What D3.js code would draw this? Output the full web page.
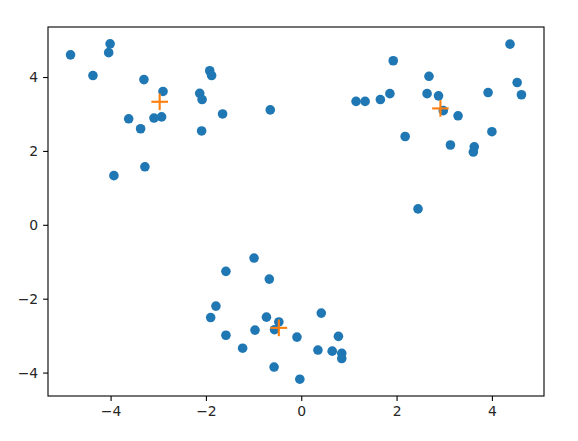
<!DOCTYPE html>
<html>
<head>
<meta charset="utf-8">
<script src="https://cdn.jsdelivr.net/npm/d3@7"></script>
<style>
  body { margin: 0; background: #fff; }
  svg { display: block; }
  .tick text { font-family: "DejaVu Sans", sans-serif; font-size: 13.9px; fill: #262626; }
</style>
</head>
<body>
<div id="chart"></div>
<script>
// scatter points, three clusters
var xs = [-4.84, -4.01, -4.04, -4.37, -3.30, -2.90, -1.92, -1.88, -2.13, -2.08,
          -1.65, -0.65, -3.62, -3.37, -3.09, -2.93, -2.09, -3.28, -3.93,
          4.38, 1.93, 2.68, 4.53, 4.62, 3.92, 1.15, 1.34, 1.66, 1.86,
          2.64, 2.88, 2.98, 3.29, 4.00, 2.18, 3.13, 3.63, 3.61, 2.45,
          -0.99, -1.58, -0.67, -1.79, -1.90, -0.73, -0.47, -0.56, -0.97, -1.58,
          -0.09, 0.42, 0.78, -1.23, 0.35, 0.65, 0.85, 0.85, -0.57, -0.03];
var ys = [4.60, 4.90, 4.66, 4.04, 3.93, 3.61, 4.17, 4.04, 3.56, 3.39,
          3.00, 3.11, 2.87, 2.60, 2.89, 2.92, 2.54, 1.57, 1.33,
          4.89, 4.44, 4.02, 3.85, 3.52, 3.58, 3.34, 3.34, 3.39, 3.55,
          3.55, 3.49, 3.09, 2.95, 2.52, 2.39, 2.16, 2.11, 1.97, 0.43,
          -0.90, -1.26, -1.47, -2.20, -2.51, -2.50, -2.63, -2.84, -2.85, -2.99,
          -3.04, -2.39, -3.02, -3.34, -3.39, -3.42, -3.48, -3.62, -3.85, -4.18];

// cluster centres
var cx = [-2.97, 2.92, -0.47];
var cy = [3.33, 3.15, -2.79];

var xTicks = [-4, -2, 0, 2, 4];
var yTicks = [-4, -2, 0, 2, 4];

var W = 578, H = 441;
var margin = {top: 27, right: 34, bottom: 45, left: 48};
var width = W - margin.left - margin.right,
    height = H - margin.top - margin.bottom;

var pts = xs.map(function(d, i) { return {x: d, y: ys[i]}; });
var centers = cx.map(function(d, i) { return {x: d, y: cy[i]}; });

// matplotlib style 5% padding
function padded(ext) {
  var p = (ext[1] - ext[0]) * 0.05;
  return [ext[0] - p, ext[1] + p];
}

var x = d3.scaleLinear().domain(padded(d3.extent(xs))).range([0, width]);
var y = d3.scaleLinear().domain(padded(d3.extent(ys))).range([height, 0]);

var svg = d3.select("#chart").append("svg")
    .attr("width", W)
    .attr("height", H);

var g = svg.append("g")
    .attr("transform", "translate(" + margin.left + "," + margin.top + ")");

g.selectAll("circle.pt")
    .data(pts)
  .enter().append("circle")
    .attr("class", "pt")
    .attr("cx", function(d) { return x(d.x); })
    .attr("cy", function(d) { return y(d.y); })
    .attr("r", 4.8)
    .attr("fill", "#1f77b4");

var arm = 8.3;
var cross = g.selectAll("g.center")
    .data(centers)
  .enter().append("g")
    .attr("class", "center")
    .attr("transform", function(d) { return "translate(" + x(d.x) + "," + y(d.y) + ")"; });
cross.append("line").attr("x1", -arm).attr("x2", arm).attr("y1", 0).attr("y2", 0);
cross.append("line").attr("x1", 0).attr("x2", 0).attr("y1", -arm).attr("y2", arm);
cross.selectAll("line")
    .attr("stroke", "#ff7f0e")
    .attr("stroke-width", 2.1);

var fmt = function(d) { return d < 0 ? "\u2212" + Math.abs(d) : "" + d; };

var xAxis = d3.axisBottom(x).tickValues(xTicks).tickFormat(fmt)
    .tickSize(4.9).tickPadding(4.9);
var yAxis = d3.axisLeft(y).tickValues(yTicks).tickFormat(fmt)
    .tickSize(4.9).tickPadding(4.9);

var gx = g.append("g")
    .attr("transform", "translate(0," + height + ")")
    .call(xAxis);
var gy = g.append("g").call(yAxis);

[gx, gy].forEach(function(a) {
  a.select(".domain").remove();
  a.selectAll(".tick line").attr("stroke", "#000").attr("stroke-width", 1.1);
});
gx.selectAll(".tick text").attr("dy", "0.71em");

// frame
g.append("rect")
    .attr("width", width)
    .attr("height", height)
    .attr("fill", "none")
    .attr("stroke", "#000")
    .attr("stroke-width", 1.1);
</script>
</body>
</html>
